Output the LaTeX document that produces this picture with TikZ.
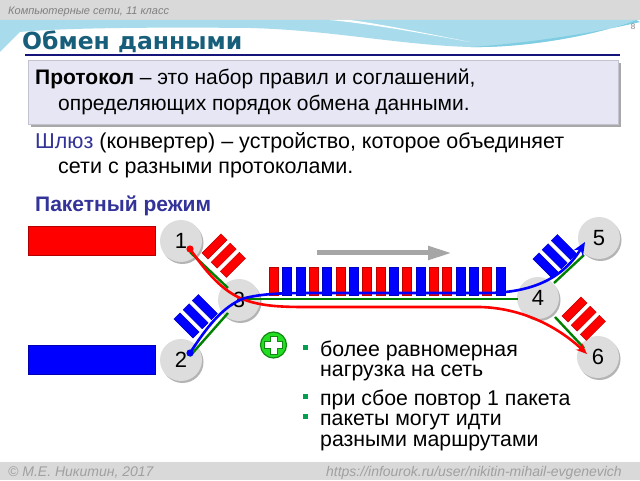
\documentclass[tikz,border=0pt]{standalone}
\usepackage{fontspec}
\setmainfont{Liberation Sans}
\newfontfamily\titlefont{DejaVu Sans}
\usetikzlibrary{arrows.meta}
\definecolor{hdrgrey}{HTML}{D9D9D9}
\definecolor{txtgrey}{HTML}{808080}
\definecolor{titleteal}{HTML}{175E7A}
\definecolor{navyline}{HTML}{14147A}
\definecolor{wave}{HTML}{A8DCEC}
\definecolor{wavedark}{HTML}{7ECDE2}
\definecolor{boxfill}{HTML}{E6E6F5}
\definecolor{boxshadow}{HTML}{A8A8A8}
\definecolor{slate}{HTML}{333399}
\definecolor{nodegrey}{HTML}{DDDDDD}
\definecolor{nodeshadow}{HTML}{B4B4B4}
\definecolor{gline}{HTML}{008000}
\definecolor{bulletgreen}{HTML}{00A050}
\definecolor{arrowgrey}{HTML}{A6A6A6}
\definecolor{pkred}{HTML}{FF0000}
\definecolor{pkblue}{HTML}{0000FF}
\definecolor{plusgreen}{HTML}{22DD22}
\definecolor{plusdark}{HTML}{118811}
\begin{document}
\begin{tikzpicture}[x=1pt,y=1pt,
  txt/.style={anchor=base west, inner sep=0pt, font=\fontsize{21.3}{24}\selectfont},
  circ/.style={circle, fill=nodegrey, minimum size=42pt, inner sep=0pt, font=\fontsize{22}{24}\selectfont},
  bul/.style={rectangle, fill=bulletgreen, minimum size=5pt, inner sep=0pt},
  redbar/.style={fill=pkred, draw=pkred!75!black, line width=0.4pt},
  bluebar/.style={fill=pkblue, draw=pkblue!75!black, line width=0.4pt},
  redline/.style={draw=pkred, line width=2.6pt},
  blueline/.style={draw=pkblue, line width=2.6pt},
  greenline/.style={draw=gline, line width=2.4pt},
  foot/.style={inner sep=0pt, font=\itshape\fontsize{14}{16}\selectfont, text=txtgrey!75}]
\useasboundingbox (0,0) rectangle (640,480);
\begin{scope}[shift={(0,480)},yscale=-1]
\fill[white] (0,0) rectangle (640,480);
% header / footer bands
\fill[hdrgrey] (0,0) rectangle (640,20);
\fill[hdrgrey] (0,462) rectangle (640,480);
% wave decoration
\fill[wave] (0,20) -- (640,20) -- (636,20) .. controls (600,34) and (530,48) .. (470,47)
  .. controls (400,45) and (330,30) .. (250,28) .. controls (150,27) and (60,28) .. (20,32)
  -- (0,52) -- cycle;
\fill[wavedark] (636,20) .. controls (600,34) and (530,48) .. (470,47)
  .. controls (520,44) and (590,34) .. (640,22) -- cycle;
\fill[white] (330,20) .. controls (380,25) and (430,35) .. (470,42)
  .. controls (420,32) and (380,24) .. (350,20) -- cycle;
\node[anchor=base west, inner sep=0pt, font=\itshape\fontsize{11}{13}\selectfont, text=txtgrey] (hdr) at (8,15) {Компьютерные сети, 11 класс};
\node[inner sep=0pt, font=\fontsize{8}{9}\selectfont, text=txtgrey] (pg) at (633,27) {8};
% title
\node[anchor=base west, inner sep=0pt, font=\titlefont\bfseries\fontsize{23.5}{28}\selectfont, text=titleteal] (title) at (22,50) {Обмен данными};
\draw[navyline, line width=2.5pt] (25,55) -- (620,55);
% protocol box
\fill[boxshadow] (31,63) rectangle (621,127);
\filldraw[fill=boxfill, draw=boxfill!85!black, line width=0.5pt] (28,60) rectangle (618,124);
\node[txt, font=\fontsize{21}{24}\selectfont] (p1) at (35,85) {\textbf{Протокол} – это набор правил и соглашений,};
\node[txt, font=\fontsize{21}{24}\selectfont] (p2) at (58,111) {определяющих порядок обмена данными.};
\node[txt, font=\fontsize{21.5}{24}\selectfont] (s1) at (35,149) {{\color{slate}Шлюз} (конвертер) – устройство, которое объединяет};
\node[txt, font=\fontsize{21.5}{24}\selectfont] (s2) at (58,174) {сети с разными протоколами.};
\node[anchor=base west, inner sep=0pt, font=\bfseries\fontsize{21}{24}\selectfont, text=slate] (pk) at (35,212) {Пакетный режим};
% host rectangles
\filldraw[fill=pkred, draw=pkred!70!black, line width=0.6pt] (28,226) rectangle (155,255);
\filldraw[fill=pkblue, draw=pkblue!70!black, line width=0.6pt] (28,345) rectangle (155,374);
% nodes (circles) with shadows
\foreach \x/\y in {181/241, 239/300, 181/360, 599/238, 538/298, 598/357}
  \fill[nodeshadow] (\x+1.5,\y+2) circle (21);
\node[circ] (n1) at (181,241) {1};
\node[circ] (n3) at (239,300) {3};
\node[circ] (n2) at (181,360) {2};
\node[circ] (n5) at (599,238) {5};
\node[circ] (n4) at (538,298) {4};
\node[circ] (n6) at (598,357) {6};
% grey direction arrow
\coordinate (ga0) at (317,253);
\coordinate (ga1) at (452,253);
\draw[arrowgrey, line width=5pt, -{Triangle[length=24pt,width=13pt]}] (ga0) -- (ga1);
% packets on the trunk
\foreach \c [count=\i from 0] in {pkred,pkblue,pkblue,pkred,pkblue,pkred,pkblue,pkred,pkred,pkblue,pkred,pkblue,pkred,pkred,pkblue,pkblue,pkred,pkblue}
  \filldraw[fill=\c, draw=\c!75!black, line width=0.4pt] ({269+13.35*\i},267) rectangle ++(9,28);
% packet groups on branches
\begin{scope}[shift={(205,256)},rotate=45]
  \foreach \i in {0,1,2} \path[redbar] ({13*\i-4.25},0) rectangle ({13*\i+4.25},-27);
\end{scope}
\begin{scope}[shift={(196,335)},rotate=-45]
  \foreach \i in {0,1,2} \path[bluebar] ({13*\i-4.25},0) rectangle ({13*\i+4.25},-27);
\end{scope}
\begin{scope}[shift={(555,275)},rotate=-45]
  \foreach \i in {0,1,2} \path[bluebar] ({13*\i-4.25},0) rectangle ({13*\i+4.25},-27);
\end{scope}
\begin{scope}[shift={(565,319)},rotate=45]
  \foreach \i in {0,1,2} \path[redbar] ({13*\i-4.25},0) rectangle ({13*\i+4.25},-27);
\end{scope}
% green links
\coordinate (g1a) at (190,252); \coordinate (g1b) at (228,288);
\coordinate (g2a) at (190,356); \coordinate (g2b) at (228,313);
\coordinate (g3a) at (245,299); \coordinate (g3b) at (518,299);
\coordinate (g5a) at (554,283); \coordinate (g5b) at (584,255);
\coordinate (g6a) at (555,317); \coordinate (g6b) at (584,348);
\draw[greenline] (g1a) -- (g1b);
\draw[greenline] (g2a) -- (g2b);
\draw[greenline] (g3a) -- (g3b);
\draw[greenline] (g5a) -- (g5b);
\draw[greenline] (g6a) -- (g6b);
% red route 1 -> 3 -> 4 -> 6
\coordinate (r0) at (190,249);
\coordinate (r1) at (587,354);
\draw[redline, -{Stealth[length=11pt,width=9pt]}] (r0) .. controls (205,270) and (222,292) .. (245,300)
  .. controls (262,306) and (280,307) .. (305,307) -- (480,307)
  .. controls (520,308) and (556,325) .. (r1);
\fill[pkred] (r0) circle (3.6);
% blue route 2 -> 3 -> 4 -> 5
\coordinate (b0) at (190,353);
\coordinate (b1) at (585,242);
\draw[blueline, -{Stealth[length=13pt,width=11pt]}] (b0) .. controls (205,330) and (222,306) .. (245,298)
  .. controls (262,294) and (280,293) .. (305,293) -- (490,293)
  .. controls (530,292) and (562,280) .. (b1);
\fill[pkblue] (b0) circle (3.6);
% plus icon
\node[circle, fill=plusgreen, draw=plusdark, line width=1.2pt, minimum size=26pt, inner sep=0pt] (plus) at (273.5,345) {};
\begin{scope}[shift={(plus.center)}]
  \filldraw[fill=white, draw=plusdark, line width=0.7pt] (-3.5,-9) -- (3.5,-9) -- (3.5,-3.5) -- (9,-3.5) -- (9,3.5) -- (3.5,3.5) -- (3.5,9) -- (-3.5,9) -- (-3.5,3.5) -- (-9,3.5) -- (-9,-3.5) -- (-3.5,-3.5) -- cycle;
\end{scope}
% bullets
\node[bul] (q1) at (305.5,347.5) {};
\node[bul] (q2) at (305.5,396.5) {};
\node[bul] (q3) at (305.5,416.5) {};
\node[txt] (t1) at (320,356) {более равномерная};
\node[txt] (t2) at (320,376) {нагрузка на сеть};
\node[txt] (t3) at (320,405) {при сбое повтор 1 пакета};
\node[txt] (t4) at (320,425) {пакеты могут идти};
\node[txt] (t5) at (320,446) {разными маршрутами};
% footer
\node[foot, anchor=base west] (f1) at (8,476) {© М.Е. Никитин, 2017};
\node[foot, anchor=base east] (f2) at (622,476) {https://infourok.ru/user/nikitin-mihail-evgenevich};
\end{scope}
\end{tikzpicture}
\end{document}
